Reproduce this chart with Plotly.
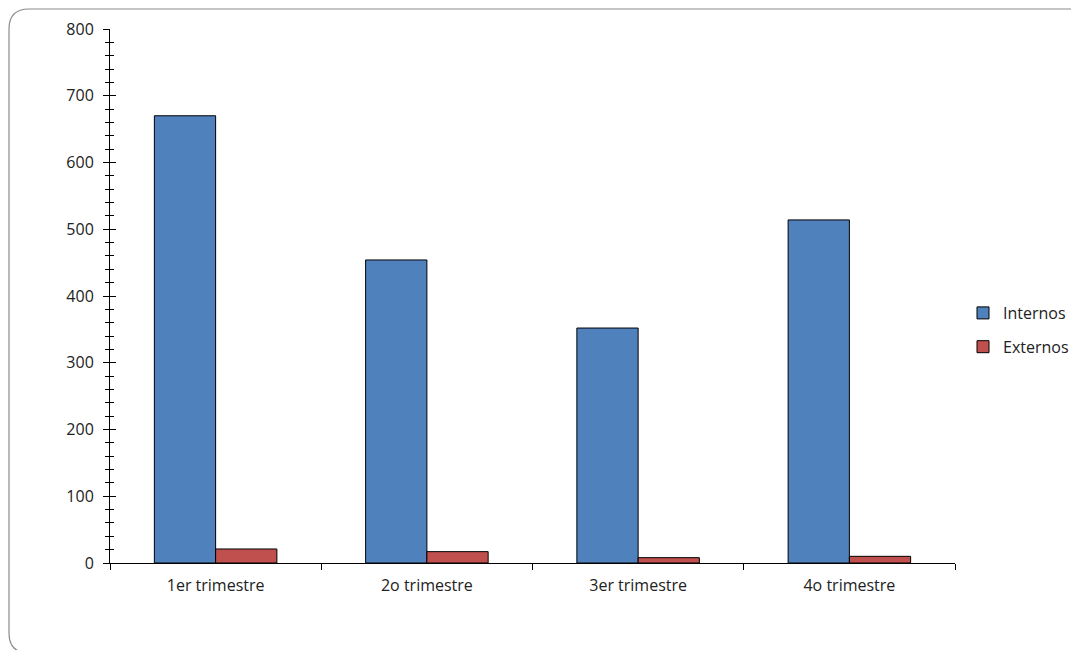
import plotly.graph_objects as go

categories = ["1er trimestre", "2o trimestre", "3er trimestre", "4o trimestre"]
internos = [670, 454, 352, 514]
externos = [21, 17, 8, 10]
y_ticks = [0, 100, 200, 300, 400, 500, 600, 700, 800]

OFF = 8  # page body margin
L, R, T, B = 110 - OFF, 955 - OFF, 29 - OFF, 563 - OFF
W, H = 1079 - OFF, 650 - OFF

def px(x):
    return (x - OFF - L) / (R - L)

def py(y):
    return (B - (y - OFF)) / (B - T)

fig = go.Figure()
fig.add_trace(go.Bar(name="Internos", x=categories, y=internos, legendgroup="a",
                     marker=dict(color="#4F81BD", line=dict(color="black", width=1))))
fig.add_trace(go.Bar(name="Externos", x=categories, y=externos, legendgroup="b",
                     marker=dict(color="#C0504D", line=dict(color="black", width=1))))
fig.add_trace(go.Scatter(x=[categories[0]], y=[0], yaxis="y2", mode="markers",
                         marker=dict(opacity=0), showlegend=False, hoverinfo="skip"))

font = dict(family="Open Sans, Liberation Sans, sans-serif", size=16, color="#222")

xl, xr = px(9), px(1090)
yt, yb = py(9), py(653)
rx, ry = px(29) - px(9), py(9) - py(29)
path = (f"M {xl+rx},{yt} L {xr-rx},{yt} Q {xr},{yt} {xr},{yt-ry} "
        f"L {xr},{yb+ry} Q {xr},{yb} {xr-rx},{yb} L {xl+rx},{yb} "
        f"Q {xl},{yb} {xl},{yb+ry} L {xl},{yt-ry} Q {xl},{yt} {xl+rx},{yt} Z")

fig.update_layout(
    width=W, height=H,
    margin=dict(l=L, r=W - R, t=T, b=H - B, autoexpand=False),
    paper_bgcolor="white", plot_bgcolor="white",
    barmode="group", bargap=0.42, bargroupgap=0,
    font=font,
    showlegend=True,
    legend=dict(x=px(963), y=py(330), xanchor="left", yanchor="middle",
                font=font, tracegroupgap=10, itemwidth=30, traceorder="grouped"),
    xaxis=dict(showline=True, linecolor="black", linewidth=1, ticks="outside",
               tickson="boundaries", ticklen=6, tickcolor="black",
               showgrid=False, zeroline=False, tickfont=font, ticklabelstandoff=8),
    yaxis=dict(range=[0, 800], tickvals=y_ticks, showline=True, linecolor="black",
               linewidth=1, ticks="outside", ticklen=6, tickcolor="black",
               minor=dict(ticks="outside", dtick=20, ticklen=4, tickcolor="black"),
               showgrid=False, zeroline=False, tickfont=font, ticklabelstandoff=6),
    yaxis2=dict(range=[0, 800], overlaying="y", side="left", tickvals=y_ticks,
                showticklabels=False, ticks="inside", ticklen=6, tickcolor="black",
                minor=dict(ticks="inside", dtick=20, ticklen=4, tickcolor="black"),
                showgrid=False, zeroline=False, showline=False),
    shapes=[dict(type="path", xref="paper", yref="paper", path=path,
                 line=dict(color="#8c8c8c", width=1.2), layer="below")],
)

fig.write_html("out.html")
